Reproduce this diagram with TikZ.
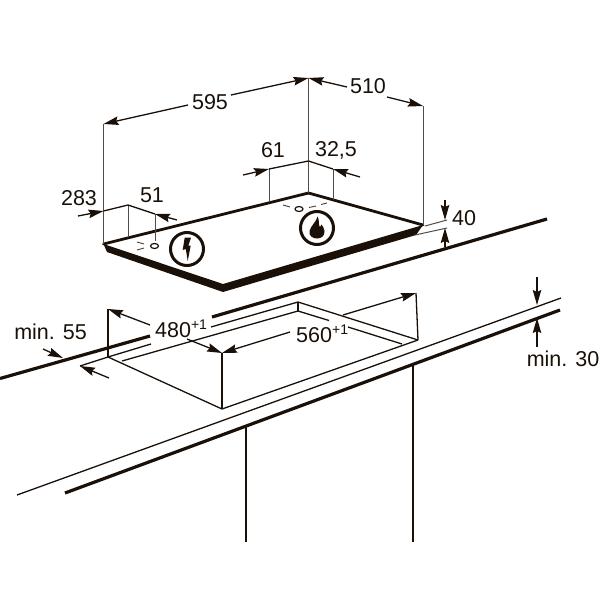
\documentclass[tikz,border=0pt]{standalone}
\usepackage{fontspec}
\setmainfont{Liberation Sans}
\usetikzlibrary{arrows.meta,shapes.geometric}
\definecolor{ink}{HTML}{1A1008}
\newcommand{\plusone}{\raisebox{7.5pt}{\fontsize{14}{15}\selectfont +1}}
\tikzset{
  lbl/.style={inner sep=0pt,text=ink,text depth=0pt,font=\fontsize{21.5}{22}\selectfont},
  dimline/.style={ink,line width=1.3pt,-{Stealth[length=15pt,width=8.5pt,inset=2pt]}},
  leader/.style={ink!75,line width=1pt},
  thinline/.style={ink,line width=1.3pt},
  hobedge/.style={ink,line width=2.8pt},
  topline/.style={ink,line width=3.2pt},
  symbol/.style={circle,draw=ink,line width=3pt,minimum size=33pt,inner sep=0pt},
  burner/.style={ellipse,draw=ink,line width=1.2pt,minimum width=8pt,minimum height=5pt,inner sep=0pt},
  tick/.style={ink!80,line width=0.9pt}
}
\begin{document}
\begin{tikzpicture}[x=1pt,y=-1pt]
  \useasboundingbox (0,0) rectangle (600,600);
  % hob corners and dimension points
  \path
    (103.5,244) coordinate (hobl)
    (308.5,193) coordinate (hobb)
    (423,225) coordinate (hobr)
    (223,284) coordinate (hobf)
    (416,235) coordinate (hobrl)
    (223,292) coordinate (hobfl)
    (107,252) coordinate (hobll)
    (103.5,124) coordinate (t595l)
    (308.5,78) coordinate (t595r)
    (423,106) coordinate (t510r)
    (188,105) coordinate (e595l)
    (231,95) coordinate (e595r)
    (347,87) coordinate (e510l)
    (387,97) coordinate (e510r)
    (78,216) coordinate (e283)
    (103.5,211) coordinate (t283)
    (128,205) coordinate (p283)
    (177,220) coordinate (e51)
    (155,214) coordinate (t51)
    (128,236) coordinate (f283)
    (155,241) coordinate (f51)
    (243,175) coordinate (e61)
    (269,169) coordinate (t61)
    (308.5,161) coordinate (p61)
    (360,177) coordinate (e325)
    (333,169) coordinate (t325)
    (269,202) coordinate (f61)
    (333,200) coordinate (f325)
    (445,200) coordinate (e40a)
    (445,220) coordinate (t40a)
    (445,247) coordinate (e40b)
    (445,228) coordinate (t40b)
    (425,226) coordinate (f40a)
    (447,220) coordinate (g40a)
    (415,235) coordinate (f40b)
    (447,228) coordinate (g40b);
  % cut-out and worktop points
  \path
    (0,378.5) coordinate (topa)
    (150,336) coordinate (topb)
    (212,317) coordinate (topc)
    (547,219) coordinate (topd)
    (108,309) coordinate (cutl)
    (108,357) coordinate (cutll)
    (222,353) coordinate (cutf)
    (222,409) coordinate (cutfl)
    (416,293) coordinate (cutr)
    (418,340) coordinate (cutrl)
    (298,302) coordinate (cutb)
    (298,311) coordinate (cutbl)
    (122,361) coordinate (innl)
    (151,344) coordinate (thina)
    (211,327) coordinate (thinb)
    (329,320.5) coordinate (thinc)
    (348,327) coordinate (thind)
    (402,344) coordinate (thine)
    (150,325) coordinate (e480l)
    (187,339) coordinate (e480r)
    (290,332) coordinate (e560l)
    (343,315) coordinate (e560r)
    (43,349) coordinate (e55a)
    (63,358) coordinate (t55a)
    (109,378) coordinate (e55b)
    (80,366) coordinate (t55b)
    (17,495) coordinate (wkal)
    (561,298) coordinate (wkar)
    (65,493) coordinate (wkbl)
    (560,310) coordinate (wkbr)
    (537,277) coordinate (e30a)
    (537,305) coordinate (t30a)
    (537,347) coordinate (e30b)
    (537,318) coordinate (t30b)
    (246,426) coordinate (lega)
    (246,542) coordinate (legb)
    (413,364) coordinate (legc)
    (413,542) coordinate (legd);
  % labels
  \node[lbl] (n595) at (210,101.5) {595};
  \node[lbl] (n510) at (368,86) {510};
  \node[lbl] (n283) at (79,198) {283};
  \node[lbl] (n51) at (152,195) {51};
  \node[lbl] (n61) at (273,150) {61};
  \node[lbl] (n325) at (336,149) {32,5};
  \node[lbl] (n40) at (464,218) {40};
  \node[lbl,anchor=base west] (n480) at (155,337) {480\plusone};
  \node[lbl,anchor=base west] (n560) at (296,342) {560\plusone};
  \node[lbl] (n55) at (50.5,332) {min. 55};
  \node[lbl] (n30) at (563,359) {min. 30};
  % hob
  \fill[ink] (hobl) -- (hobf) -- (hobr) -- (hobrl) -- (hobfl) -- (hobll) -- cycle;
  \draw[hobedge,line cap=round] (hobl) to (hobb);
  \draw[hobedge,line cap=round] (hobb) to (hobr);
  \begin{scope}[leader]
    \draw (t595l) to (hobl);
    \draw (t595r) to (hobb);
    \draw (t510r) to (hobr);
    \draw (p283) to (f283);
    \draw (t51) to (f51);
    \draw (t61) to (f61);
    \draw (t325) to (f325);
    \draw (f40a) to (g40a);
    \draw (f40b) to (g40b);
  \end{scope}
  \begin{scope}[dimline]
    \draw (e595l) to (t595l);
    \draw (e595r) to (t595r);
    \draw (e510l) to (t595r);
    \draw (e510r) to (t510r);
    \draw (e283) to (t283);
    \draw (e51) to (t51);
    \draw (e61) to (t61);
    \draw (e325) to (t325);
    \draw (e40a) to (t40a);
    \draw (e40b) to (t40b);
    \draw (e480l) to (cutl);
    \draw (e480r) to (cutf);
    \draw (e560l) to (cutf);
    \draw (e560r) to (cutr);
    \draw (e55a) to (t55a);
    \draw (e55b) to (t55b);
    \draw (e30a) to (t30a);
    \draw (e30b) to (t30b);
  \end{scope}
  \begin{scope}[thinline]
    \draw (t283) to (p283);
    \draw (p283) to (t51);
    \draw (t61) to (p61);
    \draw (p61) to (t325);
    \draw (cutl) to (cutll);
    \draw (cutf) to (cutfl);
    \draw (cutr) to (cutrl);
    \draw (cutll) to (cutfl);
    \draw (cutfl) to (cutrl);
    \draw (cutll) to (thina);
    \draw (thinb) to (cutb);
    \draw (innl) to (cutbl);
    \draw (cutb) to (cutbl);
    \draw (cutb) to (cutrl);
    \draw (cutbl) to (thinc);
    \draw (thind) to (thine);
    \draw (cutll) to (t55b);
    \draw (wkal) to (wkar);
    \draw (lega) to (legb);
    \draw (legc) to (legd);
  \end{scope}
  \draw[topline] (topa) to (topb);
  \draw[topline] (topc) to (topd);
  \draw[topline] (wkbl) to (wkbr);
  % burners and symbols
  \node[burner] (ovall) at (154.5,246) {};
  \node[burner] (ovalr) at (299,209) {};
  \coordinate (dla) at (137,242); \coordinate (dlb) at (144,244);
  \coordinate (dlc) at (137,250); \coordinate (dld) at (144,248);
  \coordinate (dra) at (283,205); \coordinate (drb) at (290,207);
  \coordinate (drc) at (309,207.5); \coordinate (drd) at (316,206);
  \coordinate (dre) at (321,204.5); \coordinate (drf) at (327,203);
  \draw[tick] (dla) to (dlb);
  \draw[tick] (dlc) to (dld);
  \draw[tick] (dra) to (drb);
  \draw[tick] (drc) to (drd);
  \draw[tick] (dre) to (drf);
  \node[symbol] (power) at (187,249) {};
  \node[symbol] (gas) at (317,228) {};
  \fill[ink] (184.7,237.7) -- (191,237.7) -- (188.3,245.7) -- (190.7,245.7) -- (187.7,261)
    -- (185.8,249) -- (182.7,250) -- cycle;
  \fill[ink] (317.5,216.5) .. controls (317,221) and (310.5,226) .. (309.5,231)
    .. controls (308.5,236) and (313,238.5) .. (317,238.5)
    .. controls (321,238.5) and (325,236) .. (324.5,231)
    .. controls (324.2,228) and (322.5,226) .. (321.5,224.5)
    .. controls (321,226.5) and (320,227) .. (319.5,226.5)
    .. controls (318.5,224) and (319.5,220) .. (317.5,216.5) -- cycle;
\end{tikzpicture}
\end{document}
